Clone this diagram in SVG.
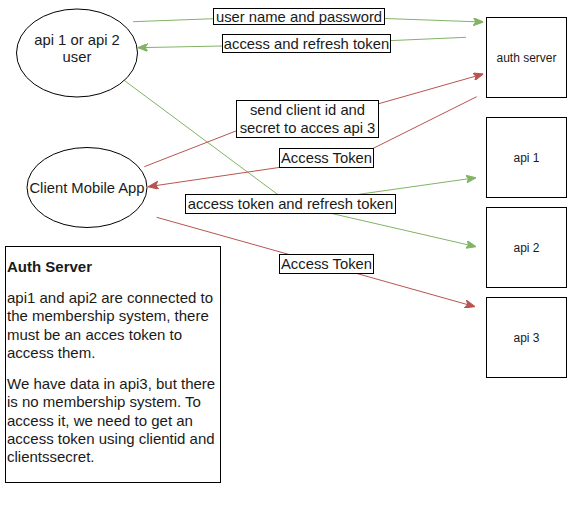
<svg xmlns="http://www.w3.org/2000/svg" width="567" height="522" viewBox="0 0 567 522">
<style>
text{font-family:"Liberation Sans",Arial,Helvetica,sans-serif;fill:#1a1a1a}
.node{fill:#fff;stroke:#000;stroke-width:1}
.sm{font-size:12px;text-anchor:middle}
.md{font-size:14.8px;text-anchor:middle}
.lbl{fill:#fff;stroke:#000;stroke-width:1}
.g{fill:none;stroke:#82b366;stroke-width:1}
.r{fill:none;stroke:#b85450;stroke-width:1}
.p{font-size:15px}
</style>
<defs>
<marker id="ag" viewBox="0 0 10 8" refX="10" refY="4" markerWidth="10" markerHeight="8" markerUnits="userSpaceOnUse" orient="auto">
<path d="M0,0 L10,4 L0,8 L2.5,4 z" fill="#82b366" stroke="#82b366" stroke-width="1"/>
</marker>
<marker id="ar" viewBox="0 0 10 8" refX="10" refY="4" markerWidth="10" markerHeight="8" markerUnits="userSpaceOnUse" orient="auto">
<path d="M0,0 L10,4 L0,8 L2.5,4 z" fill="#b85450" stroke="#b85450" stroke-width="1"/>
</marker>
</defs>

<g id="connectors">
<path class="g" d="M133,21.7 L300,15.5 L483.3,22" marker-end="url(#ag)"/>
<path class="g" d="M466,37.3 L306,44.3 L137.7,47.7" marker-end="url(#ag)"/>
<path class="g" d="M119,76.5 L290.5,204 L476,177.7" marker-end="url(#ag)"/>
<path class="g" d="M290.5,204 L476,246.7" marker-end="url(#ag)"/>
<path class="r" d="M144.3,166.7 L250,125.5 L360,109 L483.3,74" marker-end="url(#ar)"/>
<path class="r" d="M476.7,96.7 L363.3,153.3 L300,164.4 L148.3,186.7" marker-end="url(#ar)"/>
<path class="r" d="M156.7,217.3 L475,306.7" marker-end="url(#ar)"/>
</g>

<g id="label-user-pass">
<rect class="lbl" x="213.5" y="8.5" width="171" height="16"/>
<text class="md" x="299" y="21.5">user name and password</text>
</g>
<g id="label-access-refresh">
<rect class="lbl" x="222.5" y="34.5" width="168" height="18"/>
<text class="md" x="306.5" y="48.5">access and refresh token</text>
</g>
<g id="label-send-client">
<rect class="lbl" x="236.5" y="100.5" width="142" height="37"/>
<text class="md" x="307.5" y="114.5">send client id and</text>
<text class="md" x="307.5" y="132.5">secret to acces api 3</text>
</g>
<g id="label-access-token-1">
<rect class="lbl" x="279.5" y="148.5" width="94" height="19"/>
<text class="md" x="326.5" y="163">Access Token</text>
</g>
<g id="label-access-refresh-2">
<rect class="lbl" x="185.5" y="194.5" width="210" height="19"/>
<text class="md" x="290.5" y="209">access token and refresh token</text>
</g>
<g id="label-access-token-2">
<rect class="lbl" x="279.5" y="254.5" width="94" height="19"/>
<text class="md" x="326.5" y="269">Access Token</text>
</g>

<g id="user">
<ellipse class="node" cx="77" cy="53" rx="60.5" ry="44"/>
<text class="md" x="77" y="45">api 1 or api 2</text>
<text class="md" x="77" y="62">user</text>
</g>
<g id="client-app">
<ellipse class="node" cx="87" cy="187.5" rx="60" ry="40"/>
<text class="md" x="87" y="192.5">Client Mobile App</text>
</g>
<g id="auth-server">
<rect class="node" x="486.5" y="17.5" width="80" height="80"/>
<text class="sm" x="526.5" y="61.5">auth server</text>
</g>
<g id="api1">
<rect class="node" x="486.5" y="117.5" width="80" height="80"/>
<text class="sm" x="526.5" y="161.5">api 1</text>
</g>
<g id="api2">
<rect class="node" x="486.5" y="207.5" width="80" height="80"/>
<text class="sm" x="526.5" y="251.5">api 2</text>
</g>
<g id="api3">
<rect class="node" x="486.5" y="297.5" width="80" height="80"/>
<text class="sm" x="526.5" y="341.5">api 3</text>
</g>

<g id="note">
<rect class="node" x="5.5" y="246.5" width="215" height="236"/>
<text class="p" x="7" y="272" font-weight="bold">Auth Server</text>
<text class="p" x="7" y="303">api1 and api2 are connected to</text>
<text class="p" x="7" y="321.3">the membership system, there</text>
<text class="p" x="7" y="339.6">must be an acces token to</text>
<text class="p" x="7" y="358">access them.</text>
<text class="p" x="7" y="389">We have data in api3, but there</text>
<text class="p" x="7" y="407.3">is no membership system. To</text>
<text class="p" x="7" y="425.6">access it, we need to get an</text>
<text class="p" x="7" y="444">access token using clientid and</text>
<text class="p" x="7" y="462.3">clientssecret.</text>
</g>
</svg>
